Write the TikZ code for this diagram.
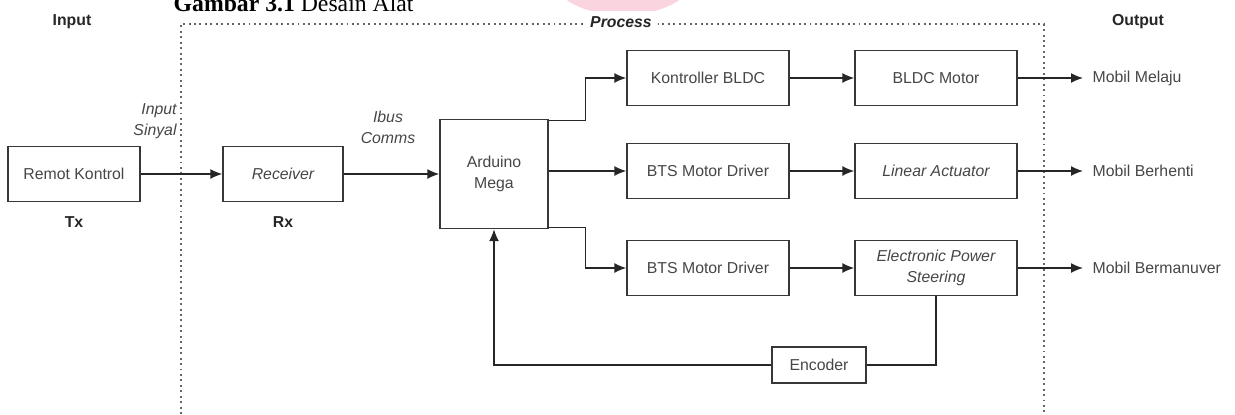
\documentclass[tikz,border=0pt]{standalone}
\usepackage{fontspec}
\setmainfont{Liberation Sans}
\newfontfamily\capfont{Liberation Serif}
\usetikzlibrary{arrows.meta}
\definecolor{boxgray}{RGB}{55,55,55}
\definecolor{txtgray}{RGB}{70,70,70}
\definecolor{wmpink}{RGB}{250,212,222}

\begin{document}
\begin{tikzpicture}
[x=0.02cm, y=-0.02cm, font=\fontsize{9}{12}\selectfont, line width=0.8pt,
block/.style={rectangle, draw=boxgray, text=txtgray, minimum width=3.24cm, minimum height=1.1cm, inner sep=1pt, align=center},
arr/.style={draw=black!85, -{Latex[length=2.4mm, width=2mm]}},
wire/.style={draw=black!85},
procline/.style={draw=black!60, dotted, line width=1.1pt},
head/.style={font=\fontsize{9}{12}\selectfont\bfseries, text=black!85},
note/.style={font=\fontsize{9}{12}\selectfont\itshape, text=txtgray, align=center},
outtext/.style={text=txtgray, anchor=west, inner sep=0.18cm}]

\useasboundingbox (0,0) rectangle (1235,414);

% watermark and caption, cut by the page edge
\fill[wmpink] (623,-22) ellipse [x radius=1.4cm, y radius=0.74cm];
\node[font=\capfont\fontsize{13.5}{15}\selectfont, anchor=base west, inner sep=0pt] (cap) at (173,11) {\textbf{Gambar 3.1} Desain Alat};

% process frame
\draw[procline] (181,414) -- (181,24) -- (1044,24) -- (1044,414);
\node[head, font=\fontsize{9}{12}\selectfont\bfseries\itshape, fill=white, inner xsep=0.12cm] (proc) at (621,22) {Process};
\node[head] (inp) at (72,22) {Input};
\node[head] (outp) at (1138,22) {Output};

% blocks
\node[block, minimum width=2.64cm] (rk) at (74,174) {Remot Kontrol};
\node[block, minimum width=2.4cm, font=\fontsize{9}{12}\selectfont\itshape] (rx) at (283,174) {Receiver};
\node[block, minimum width=2.16cm, minimum height=2.18cm] (ard) at (494,174) {Arduino\\Mega};
\node[block] (kb) at (708,78) {Kontroller BLDC};
\node[block] (bts1) at (708,171) {BTS Motor Driver};
\node[block] (bts2) at (708,268) {BTS Motor Driver};
\node[block] (bm) at (936,78) {BLDC Motor};
\node[block, font=\fontsize{9}{12}\selectfont\itshape] (la) at (936,171) {Linear Actuator};
\node[block, font=\fontsize{9}{12}\selectfont\itshape] (eps) at (936,268) {Electronic Power\\Steering};
\node[block, minimum width=1.88cm, minimum height=0.72cm] (enc) at (819,365) {Encoder};

\node[head] (tx) at (74,222) {Tx};
\node[head] (rxl) at (283,222) {Rx};
\node[note, align=right] (sig) at (155,121) {Input\\Sinyal};
\node[note] (ibus) at (388,127) {Ibus\\Comms};

% signal flow
\draw[arr] (rk) -- (rx);
\draw[arr] (rx) -- (ard);
\draw[arr] ([yshift=-1pt]ard.north east) -- ++(37,0) |- (kb.west);
\draw[arr] (ard.east |- bts1) -- (bts1);
\draw[arr] ([yshift=1pt]ard.south east) -- ++(37,0) |- (bts2.west);
\draw[arr] (kb) -- (bm);
\draw[arr] (bts1) -- (la);
\draw[arr] (bts2) -- (eps);

\foreach \src/\n/\y/\t in {bm/o1/78/Mobil Melaju, la/o2/171/Mobil Berhenti, eps/o3/268/Mobil Bermanuver} {
    \node[outtext] (\n) at (1083,\y) {\t};
    \draw[arr] (\src) -- (\n);
}

% feedback
\draw[wire] (eps.south) |- (enc.east);
\draw[arr] (enc.west) -| (ard.south);

\end{tikzpicture}
\end{document}
